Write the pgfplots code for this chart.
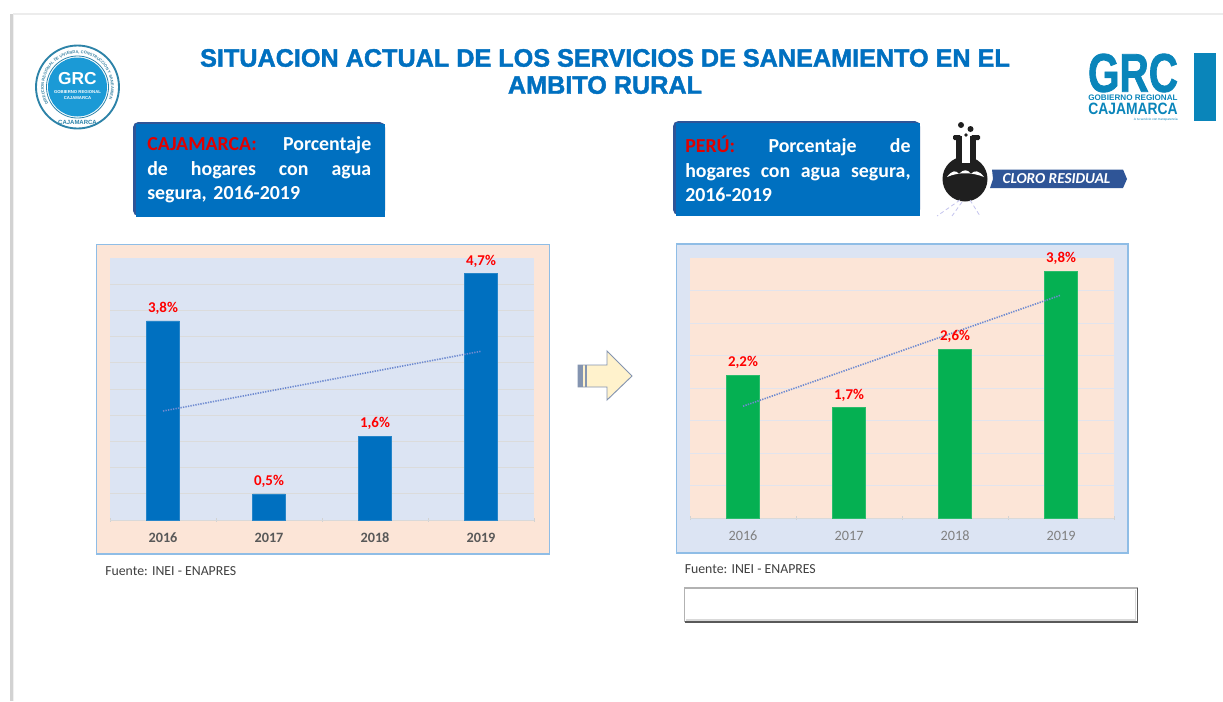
\documentclass[border=0pt]{standalone}
\usepackage{pgfplots}
\pgfplotsset{compat=1.18}
\usepackage{pgfplotstable}
\usepackage{fontspec}
\usetikzlibrary{decorations.text}
\setmainfont{Carlito}
\newfontfamily\arialf{Liberation Sans}
\newfontfamily\arialh[BoldFeatures={FakeBold=1.6}]{Liberation Sans}
\definecolor{tblue}{HTML}{0070C0}
\definecolor{bxedge}{HTML}{2F5597}
\definecolor{peach}{HTML}{FCE5D7}
\definecolor{lblue}{HTML}{DCE4F3}
\definecolor{frameb}{HTML}{8FBDE6}
\definecolor{barg}{HTML}{05B052}
\definecolor{logob}{HTML}{1B9AD6}
\definecolor{logoc}{HTML}{0A85BA}
\definecolor{trend}{HTML}{6E8AD0}
\definecolor{lab}{HTML}{FF0000}
\definecolor{tick}{HTML}{595959}
\definecolor{arrowf}{HTML}{FFF2CC}
\pgfplotstableread{
x y
0 3.8
1 0.5
2 1.6
3 4.7
}\cajadata
\pgfplotstableread{
x y
0 2.2
1 1.7
2 2.6
3 3.8
}\perudata
\pgfplotsset{
 panel/.style={
  scale only axis, xmin=-0.5, xmax=3.5, ymin=0,
  axis x line=bottom, axis y line=left,
  x axis line style={-, draw=gray!30},
  y axis line style={-, draw=none},
  ytick style={draw=none}, yticklabels={},
  xtick={0,1,2,3}, xticklabels={2016,2017,2018,2019},
  typeset ticklabels with strut,
  major x tick style={draw=none},
  minor xtick={-0.5,0.5,1.5,2.5,3.5},
  minor x tick style={draw=gray!35},
  minor tick length=2.5pt,
  ymajorgrids, clip=false,
 },
 lbl/.style={
  nodes near coords={\pgfmathprintnumber[assume math mode=true,fixed,precision=1,fixed zerofill,use comma]{\pgfplotspointmeta}\%},
  nodes near coords style={text=lab,font=\fontsize{11.2pt}{12pt}\selectfont\bfseries,yshift=1.2pt},
 },
}
\begin{document}
\begin{tikzpicture}
\path[use as bounding box,fill=white] (0,0) rectangle (917.25pt,-525.75pt);
\begin{scope}[x=0.75pt,y=-0.75pt]
% page edges
\fill[gray!35] (10,14) rectangle (12.5,701);
\fill[gray!12] (12.5,14) rectangle (14,701);
\fill[gray!15] (12.5,12.5) rectangle (1223,14.5);
% title
\node[align=center,text=tblue,font=\arialh\fontsize{18.9pt}{20.3pt}\selectfont\bfseries] at (605,71.5)
 {SITUACION ACTUAL DE LOS SERVICIOS DE SANEAMIENTO EN EL\\AMBITO RURAL};
% left logo
\fill[white,draw=logoc!70!gray,line width=1.4pt] (77.5,87) circle (41.5);
\draw[logoc!70!gray,line width=0.6pt] (77.5,87) circle (31);
\fill[logob] (77.5,87) circle (29.5);
\node[text=white,font=\arialf\fontsize{13pt}{13pt}\selectfont\bfseries,inner sep=0pt] at (77.5,79) {GRC};
\node[text=white,font=\arialf\fontsize{3.2pt}{3.8pt}\selectfont\bfseries,align=center,inner sep=0pt] at (77.5,95) {GOBIERNO REGIONAL\\CAJAMARCA};
\node[text=logoc!70!gray,font=\arialf\fontsize{4.5pt}{5pt}\selectfont\bfseries,inner sep=0pt] at (77.5,122) {CAJAMARCA};
\path[postaction={decorate,decoration={text along path,text align=center,
  text={|\arialf\fontsize{3pt}{4pt}\selectfont\bfseries\color{logoc!60!gray}|DIRECCION REGIONAL DE VIVIENDA, CONSTRUCCION Y SANEAMIENTO}}}]
  (58.1pt,-65.25pt) ++(200:25.2pt) arc[start angle=200,end angle=-20,radius=25.2pt];
% right logo
\node[text=logoc,font=\arialh\bfseries,inner sep=0pt] at (1133,73) {\resizebox{67.5pt}{28.5pt}{GRC}};
\node[text=logoc,font=\arialf\bfseries,inner sep=0pt] at (1133,97.5) {\resizebox{67pt}{4.2pt}{GOBIERNO REGIONAL}};
\node[text=logoc,font=\arialf\bfseries,inner sep=0pt] at (1133,109) {\resizebox{67pt}{8.6pt}{CAJAMARCA}};
\node[anchor=east,text=logoc,font=\arialf\fontsize{2.4pt}{3pt}\selectfont,inner sep=0pt] at (1178,119.5) {A tu servicio con transparencia};
\fill[logoc] (1193.5,53) rectangle (1216,121);
% header boxes
\fill[bxedge,rounded corners=4pt] (133,122) rectangle (385,216);
\fill[tblue] (136,124) rectangle (385,216.5);
\fill[bxedge,rounded corners=4pt] (673,121) rectangle (920,215);
\fill[tblue] (676,123) rectangle (920,216);
\node[anchor=west,inner sep=0pt,text=white,font=\fontsize{14.9pt}{18.4pt}\selectfont\bfseries,text width=168pt,align=left] at (147,170) {%
 \leavevmode\hbox to 168pt{\textcolor{lab!88!black}{CAJAMARCA:}\hfill Porcentaje}\\
 \leavevmode\hbox to 168pt{de\hfill hogares\hfill con\hfill agua}\\
 segura, 2016-2019};
\node[anchor=west,inner sep=0pt,text=white,font=\fontsize{14.9pt}{18.4pt}\selectfont\bfseries,text width=169pt,align=left] at (685,169) {%
 \leavevmode\hbox to 169pt{\textcolor{lab!88!black}{PERÚ:}\hfill Porcentaje\hfill de}\\
 \leavevmode\hbox to 169pt{hogares\hfill con\hfill agua\hfill segura,}\\
 2016-2019};
% flask
\fill[black!88] (965,179) circle (22.5);
\fill[black!88] (956,136) rectangle (976,165);
\fill[black!88,rounded corners=1pt] (953,135) rectangle (961,140);
\fill[black!88,rounded corners=1pt] (971,135) rectangle (980,140);
\fill[white] (962,133) rectangle (970,163);
\fill[black!88] (961,125) circle (3);
\fill[black!88] (970.5,129) circle (3);
\fill[black!88] (966,135) circle (1.8);
\fill[white] (947,177) .. controls (952,170) and (956,170) .. (959,174) .. controls (963,169) and (968,169) .. (971,174) .. controls (974,170) and (979,170) .. (984,177) .. controls (972,172) and (958,172) .. cycle;
\draw[gray!45!blue!30,line width=0.6pt,densely dashed] (962,202) -- (952,216) (970,200) -- (980,216) (960,200) -- (937,216);
% cloro ribbon
\fill[bxedge] (992,169.5) -- (1123,169.5) -- (1127,179) -- (1123,188) -- (990,188) -- (993,179) -- cycle;
\node[text=white,font=\fontsize{11.4pt}{12pt}\selectfont\bfseries\itshape] at (1056.5,179) {CLORO RESIDUAL};
% chart frames
\fill[peach,draw=frameb,line width=0.9pt] (96.5,244.5) rectangle (549.5,554);
\fill[lblue,draw=frameb,line width=0.9pt] (676.5,244) rectangle (1128,553);
% arrow
\fill[fill=arrowf,draw=bxedge!60!gray!70,line width=0.7pt]
 (578,365) -- (607,365) -- (607,351) -- (632,376) -- (607,400) -- (607,387) -- (578,387) -- cycle;
\fill[bxedge!60!gray!70] (578,365) rectangle (583,387);
\fill[bxedge!60!gray!70] (585,365) rectangle (586.5,387);
% fuente
\node[anchor=west,inner sep=0pt,text=black!75,font=\fontsize{10.35pt}{12pt}\selectfont] at (105,571) {Fuente: INEI - ENAPRES};
\node[anchor=west,inner sep=0pt,text=black!75,font=\fontsize{10.35pt}{12pt}\selectfont] at (684.5,569) {Fuente: INEI - ENAPRES};
% empty box
\fill[white] (684.5,588) rectangle (1137.5,622);
\draw[gray!60,line width=1.2pt] (684.5,622) -- (684.5,588) -- (1137.5,588);
\draw[gray!70!black,line width=1.4pt] (684.5,622) -- (1137.5,622) -- (1137.5,588);
\draw[gray!30,line width=1.2pt] (686,619.8) -- (1135.5,619.8) -- (1135.5,590);
\end{scope}

\begin{axis}[panel, at={(82.5pt,-390pt)}, anchor=south west,
  width=318pt, height=196.5pt, ymax=5, ytick={0.5,1,...,4.5},
  axis background/.style={fill=lblue},
  grid style={draw=black!14,line width=0.6pt},
  xticklabel style={yshift=-3pt,text=tick,font=\fontsize{10.7pt}{12pt}\selectfont\bfseries}]
\addplot[ybar,bar width=24.6pt,fill=tblue,draw=tblue!85!white,lbl] table[x=x,y=y] {\cajadata};
\addplot[trend,line width=1.2pt,dash pattern=on 1pt off 0.9pt] coordinates {(0,2.08)(3,3.22)};
\end{axis}

\begin{axis}[panel, at={(517.5pt,-388.5pt)}, anchor=south west,
  width=318pt, height=195pt, ymax=4, ytick={0.5,1,...,3.5},
  axis background/.style={fill=peach},
  grid style={draw=lblue!80!peach,line width=0.6pt},
  xticklabel style={yshift=-3pt,text=gray,font=\fontsize{10.7pt}{12pt}\selectfont}]
\addplot[ybar,bar width=24.6pt,fill=barg,draw=barg!85!white,lbl] table[x=x,y=y] {\perudata};
\addplot[trend,line width=1.2pt,dash pattern=on 1pt off 0.9pt] coordinates {(0,1.72)(3,3.43)};
\end{axis}
\end{tikzpicture}
\end{document}
